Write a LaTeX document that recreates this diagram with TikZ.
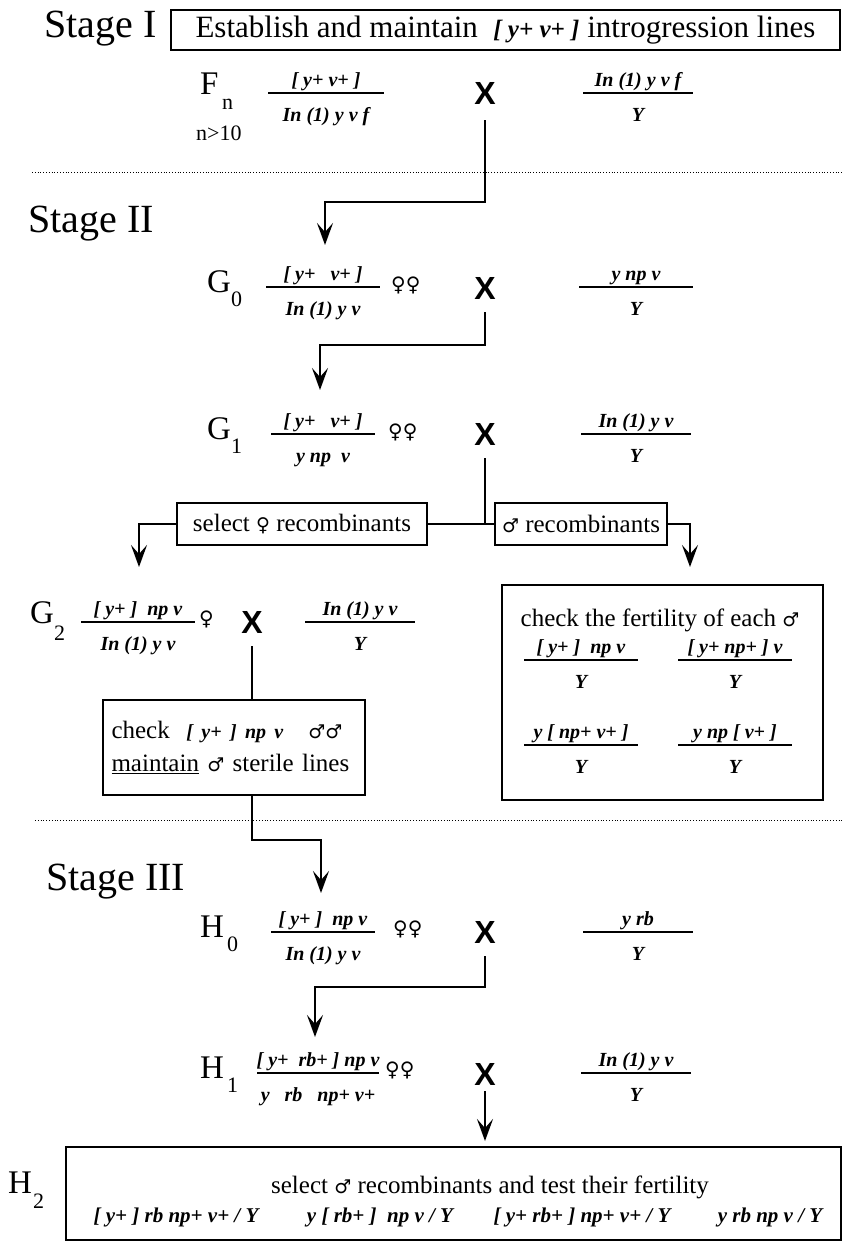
\documentclass[tikz,border=0pt]{standalone}
\usepackage{fontspec}
\setmainfont{Liberation Serif}
\newfontfamily\symf{DejaVu Sans}
\newfontfamily\xf{Liberation Sans}
\usetikzlibrary{arrows.meta}
\newcommand{\fem}{{\symf\fontsize{19}{19}\selectfont\char"2640}}
\newcommand{\mal}{{\symf\fontsize{19}{19}\selectfont\char"2642}}
\newcommand{\gtyp}{\fontsize{20}{20}\selectfont\bfseries\itshape}
\newcommand{\fr}[5]{%
  \draw[fracline] ({#1-#3},#2) -- ({#1+#3},#2);
  \node[fractxt, anchor=base] at (#1,{#2-7}) {#4};
  \node[fractxt, anchor=base] at (#1,{#2+28}) {#5};}
\tikzset{
  conn/.style={line width=2.3pt, -{Stealth[length=22pt,width=16pt,inset=9pt]}},
  connp/.style={line width=2.3pt},
  fracline/.style={line width=1.3pt},
  fractxt/.style={font=\fontsize{20}{20}\selectfont\bfseries\itshape, inner sep=0pt},
  gen/.style={font=\fontsize{33}{33}\selectfont, inner sep=0pt, anchor=base west},
  gsub/.style={font=\fontsize{22}{22}\selectfont, inner sep=0pt, anchor=base west},
  stagelbl/.style={font=\fontsize{40}{40}\selectfont, inner sep=0pt, anchor=base west},
  cross/.style={font=\fontsize{32}{32}\selectfont\xf\bfseries, inner sep=0pt},
  boxtxt/.style={font=\fontsize{25}{33}\selectfont},
  rbox/.style={draw, line width=2.6pt, inner sep=0pt},
  dots/.style={dotted, line width=0.8pt},
  sexsym/.style={font=\fontsize{20}{20}\selectfont\symf, inner sep=0pt, anchor=base west},
}
\begin{document}
\begin{tikzpicture}[x=1pt,y=-1pt]
\useasboundingbox (0,0) rectangle (843,1243);
% ---------- Stage I ----------
\node[stagelbl] (s1) at (44,37) {Stage I};
\node[rbox, line width=2.8pt, minimum width=669, minimum height=40, font=\fontsize{31}{31}\selectfont] (boxI) at (505.5,30) {Establish and maintain \ {\gtyp\fontsize{25}{25}\selectfont [ y+ v+ ]} introgression lines};
\node[gen] (F) at (200,94) {F};
\node[gsub] (Fn) at (222,109) {n};
\node[gsub] (n10) at (196,140) {n>10};
\fr{326}{93}{58}{[\ y+\ v+\ ]}{In (1) y v f}
\node[cross] (xI) at (485,93) {X};
\fr{638}{93}{55}{In (1) y v f}{Y}
\draw[dots] (32,172) -- (843,172);
\coordinate (c1) at (325,202);
\coordinate (t1) at (325,245);
\draw[conn] ([yshift=-16pt]xI.south) |- (c1) -- (t1);
% ---------- Stage II ----------
\node[stagelbl] (s2) at (28,232) {Stage II};
\node[gen] (G0) at (207,292) {G};
\node[gsub] (G0s) at (231,306) {0};
\fr{323}{287}{57}{[\ y+\ \ \ v+\ ]}{In (1) y v}
\node[sexsym] (f0) at (391,291) {\char"2640\char"2640};
\node[cross] (xG0) at (485,288) {X};
\fr{636}{287}{57}{y np v}{Y}
\coordinate (c2) at (320,345);
\coordinate (t2) at (320,390);
\draw[conn] ([yshift=-13pt]xG0.south) |- (c2) -- (t2);
\node[gen] (G1) at (207,439) {G};
\node[gsub] (G1s) at (231,453) {1};
\fr{323}{434}{52}{[\ y+\ \ \ v+\ ]}{y np\ \ v}
\node[sexsym] (f1) at (388,438) {\char"2640\char"2640};
\node[cross] (xG1) at (485,434) {X};
\fr{636}{434}{55}{In (1) y v}{Y}
\node[rbox, boxtxt, minimum width=250, minimum height=42] (selbox) at (302,524) {select \fem\ recombinants};
\node[rbox, boxtxt, minimum width=172, minimum height=42] (malbox) at (581,524) {\mal\ recombinants};
\draw[connp] ([yshift=-13pt]xG1.south) -- (xG1.south |- selbox.east);
\draw[connp] (selbox.east) -- (malbox.west);
\coordinate (t3) at (139,567);
\coordinate (t4) at (690,567);
\draw[conn] (selbox.west) -| (t3);
\draw[conn] (malbox.east) -| (t4);
% G2
\node[gen] (G2) at (30,623) {G};
\node[gsub] (G2s) at (54,640) {2};
\fr{138}{622}{57}{[\ y+\ ]\ \ np\ v}{In (1) y v}
\node[sexsym] (f2) at (199,625) {\char"2640};
\node[cross] (xG2) at (252,622) {X};
\fr{360}{622}{55}{In (1) y v}{Y}
% big box
\node[rbox, minimum width=321, minimum height=215] (bigbox) at (662.5,692.5) {};
\node[boxtxt, inner sep=0pt, anchor=base] (btitle) at (660,626) {check the fertility of each \mal};
\fr{581}{660}{57}{[\ y+\ ]\ \ np\ v}{Y}
\fr{735}{660}{57}{[\ y+\ np+\ ]\ v}{Y}
\fr{581}{745}{57}{y [\ np+ v+\ ]}{Y}
\fr{735}{745}{57}{y np [\ v+\ ]}{Y}
% check box
\node[rbox, boxtxt, minimum width=262, minimum height=95, align=left, text width=245] (chk) at (234,747.5) {check\ \ {\gtyp [ y+ ] np v}\ \ \ \mal\mal\\\underline{maintain} \mal\ sterile lines};
\draw[connp] ([yshift=-13pt]xG2.south) -- (xG2.south |- chk.north);
\coordinate (c5) at (252,840);
\coordinate (t5) at (321,893);
\draw[conn] (xG2.south |- chk.south) |- (c5 -| t5) -- (t5);
\draw[dots] (35,820) -- (843,820);
% ---------- Stage III ----------
\node[stagelbl] (s3) at (46,890) {Stage III};
\node[gen] (H0) at (200,937) {H};
\node[gsub] (H0s) at (227,951) {0};
\fr{323}{932}{52}{[\ y+\ ]\ \ np\ v}{In (1) y v}
\node[sexsym] (f3) at (393,935) {\char"2640\char"2640};
\node[cross] (xH0) at (485,932) {X};
\fr{638}{932}{55}{y rb}{Y}
\coordinate (c6) at (315,987);
\coordinate (t6) at (315,1037);
\draw[conn] ([yshift=-13pt]xH0.south) |- (c6) -- (t6);
\node[gen] (H1) at (200,1078) {H};
\node[gsub] (H1s) at (227,1092) {1};
\fr{318}{1073}{61}{[\ y+\ \ rb+\ ]\ np v}{y\ \ \ rb\ \ \ np+ v+}
\node[sexsym] (f4) at (385,1076) {\char"2640\char"2640};
\node[cross] (xH1) at (485,1074) {X};
\fr{636}{1073}{55}{In (1) y v}{Y}
\coordinate (t7) at (485,1141);
\draw[conn] ([yshift=-6pt]xH1.south) -- (t7);
% H2
\node[gen] (H2) at (8,1193) {H};
\node[gsub] (H2s) at (33,1208) {2};
\node[rbox, minimum width=775, minimum height=93] (h2box) at (453.5,1193.5) {};
\node[boxtxt, inner sep=0pt, anchor=base] (h2t) at (490,1193) {select \mal\ recombinants and test their fertility};
\node[fractxt, anchor=base, font=\fontsize{21}{21}\selectfont\bfseries\itshape] (h2a) at (176,1222) {[\ y+\ ]\ rb np+ v+\ /\ Y};
\node[fractxt, anchor=base, font=\fontsize{21}{21}\selectfont\bfseries\itshape] (h2b) at (380,1222) {y [\ rb+\ ]\ \ np v\ /\ Y};
\node[fractxt, anchor=base, font=\fontsize{21}{21}\selectfont\bfseries\itshape] (h2c) at (582,1222) {[\ y+ rb+\ ]\ np+ v+\ /\ Y};
\node[fractxt, anchor=base, font=\fontsize{21}{21}\selectfont\bfseries\itshape] (h2d) at (770,1222) {y rb np v\ /\ Y};
\end{tikzpicture}
\end{document}
